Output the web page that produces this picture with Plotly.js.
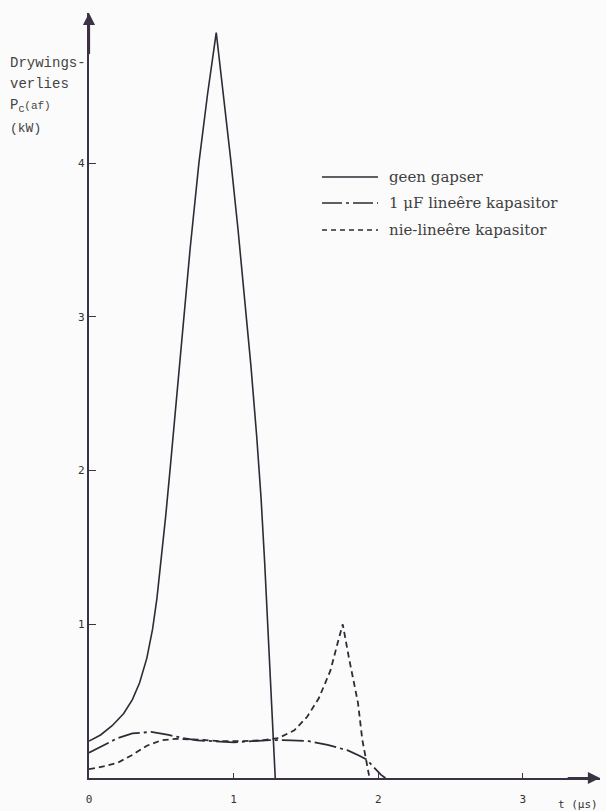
<!DOCTYPE html>
<html>
<head>
<meta charset="utf-8">
<script src="https://cdn.plot.ly/plotly-3.0.1.min.js"></script>
<style>html,body{margin:0;padding:0;background:#fbfbfb;}#chart{width:606px;height:811px;}</style>
</head>
<body>
<div id="chart"></div>
<script>
// Series labels
const legendLabels = ["geen gapser", "1 \u03bcF line\u00eare kapasitor", "nie-line\u00eare kapasitor"];

// t (us) and P_C(af) (kW)
const tSolid = [0, 0.08, 0.16, 0.24, 0.30, 0.35, 0.40, 0.44, 0.47, 0.50, 0.53, 0.56, 0.60, 0.65, 0.70, 0.76, 0.82, 0.88, 0.93, 0.98, 1.03, 1.08, 1.12, 1.16, 1.19, 1.215, 1.235, 1.255, 1.272, 1.288];
const pSolid = [0.24, 0.28, 0.34, 0.42, 0.51, 0.62, 0.78, 0.97, 1.17, 1.42, 1.70, 2.0, 2.42, 2.95, 3.45, 4.0, 4.45, 4.85, 4.45, 4.025, 3.575, 3.10, 2.68, 2.22, 1.82, 1.40, 1.02, 0.62, 0.28, 0.0];

const tLin = [0, 0.1, 0.2, 0.3, 0.43, 0.55, 0.65, 0.75, 0.9, 1.0, 1.1, 1.25, 1.4, 1.52, 1.65, 1.79, 1.87, 1.92, 1.97, 2.02, 2.05];
const pLin = [0.165, 0.21, 0.26, 0.29, 0.30, 0.28, 0.26, 0.245, 0.235, 0.232, 0.238, 0.247, 0.245, 0.24, 0.215, 0.18, 0.145, 0.12, 0.07, 0.02, 0.0];

const tNonlin = [0, 0.1, 0.2, 0.3, 0.4, 0.5, 0.6, 0.75, 0.9, 1.05, 1.2, 1.31, 1.42, 1.51, 1.59, 1.67, 1.72, 1.755, 1.80, 1.86, 1.89, 1.94];
const pNonlin = [0.057, 0.075, 0.10, 0.15, 0.21, 0.245, 0.255, 0.25, 0.24, 0.24, 0.245, 0.26, 0.31, 0.40, 0.52, 0.70, 0.88, 1.0, 0.77, 0.49, 0.25, 0.0];

// Axis ticks
const xTickVals = [0, 1, 2, 3];
const xTickText = ["0", "1", "2", "3"];
const yTickVals = [1, 2, 3, 4];
const yTickText = ["1", "2", "3", "4"];

const ink = "#2f2a35";
const axisInk = "#3b3344";
const dashes = ["solid", "22px,4px,3px,4px", "6px,4px"];

const traces = [
  {x: tSolid, y: pSolid, name: legendLabels[0], mode: "lines", line: {color: ink, width: 1.6, dash: dashes[0]}, cliponaxis: false},
  {x: tLin, y: pLin, name: legendLabels[1], mode: "lines", line: {color: ink, width: 1.8, dash: dashes[1]}, cliponaxis: false},
  {x: tNonlin, y: pNonlin, name: legendLabels[2], mode: "lines", line: {color: ink, width: 1.8, dash: dashes[2]}, cliponaxis: false}
];

// pixel helpers for decorations (plot area: x 89..600, y 13..778)
const W = 606, H = 811, L = 89, R = 6, T = 13, B = 33;
const pw = W - L - R, ph = H - T - B;
const px = v => (v - L) / pw;
const py = v => (H - B - v) / ph;

const legendRows = [177, 203, 230];
const shapes = [];
const annotations = [];
legendRows.forEach((yy, i) => {
  shapes.push({type: "line", xref: "paper", yref: "paper", x0: px(322), x1: px(378), y0: py(yy), y1: py(yy),
    line: {color: ink, width: 1.3, dash: i === 0 ? "solid" : (i === 1 ? "20px,4px,3px,4px" : "5px,4px")}});
  annotations.push({xref: "paper", yref: "paper", x: px(387), y: py(yy), xanchor: "left", yanchor: "middle",
    text: legendLabels[i], showarrow: false, font: {family: "DejaVu Serif", size: 15, color: "#3f3f3f"}});
});

// y-axis title lines
const yTitle = ["Drywings-", "verlies", "P<sub>C</sub><span style='font-size:11px'>(af)</span>", "(kW)"];
const yTitleRows = [63, 84, 106, 128];
yTitle.forEach((s, i) => {
  annotations.push({xref: "paper", yref: "paper", x: px(8), y: py(yTitleRows[i]), xanchor: "left", yanchor: "middle",
    text: s, showarrow: false, font: {family: "Liberation Mono", size: i === 3 ? 13 : 14, color: "#444"}});
});

// x-axis unit
annotations.push({xref: "x", yref: "y", x: 3.38, y: 0, yshift: -26, xanchor: "center", yanchor: "middle",
  text: "t (\u03bcs)", showarrow: false, font: {family: "DejaVu Sans Mono", size: 11, color: "#333"}});

// axis arrowheads
annotations.push({xref: "x", yref: "y", axref: "x", ayref: "y", x: 3.534, y: 0, ax: 3.3, ay: 0, text: "",
  showarrow: true, arrowhead: 2, arrowsize: 1.1, arrowwidth: 2.2, arrowcolor: axisInk, standoff: 0});
annotations.push({xref: "x", yref: "y", axref: "x", ayref: "y", x: 0, y: 4.977, ax: 0, ay: 4.7, text: "",
  showarrow: true, arrowhead: 2, arrowsize: 1.1, arrowwidth: 2.2, arrowcolor: axisInk, standoff: 0});

const layout = {
  width: W, height: H,
  margin: {l: L, r: R, t: T, b: B, pad: 0},
  paper_bgcolor: "#fbfbfb", plot_bgcolor: "#fbfbfb",
  showlegend: false,
  xaxis: {range: [0, 3.534], showgrid: false, zeroline: false, showline: true, linecolor: axisInk, linewidth: 2.2,
    tickmode: "array", tickvals: xTickVals, ticktext: xTickText, ticks: "inside", ticklen: 5, tickwidth: 1.2, tickcolor: axisInk,
    ticklabelstandoff: 10, tickfont: {family: "DejaVu Sans Mono", size: 11, color: "#333"}},
  yaxis: {range: [0, 4.977], showgrid: false, zeroline: false, showline: true, linecolor: axisInk, linewidth: 2.2,
    tickmode: "array", tickvals: yTickVals, ticktext: yTickText, ticks: "inside", ticklen: 7, tickwidth: 1.2, tickcolor: axisInk,
    tickfont: {family: "DejaVu Sans Mono", size: 11, color: "#333"}},
  shapes: shapes,
  annotations: annotations
};

Plotly.newPlot("chart", traces, layout, {staticPlot: true, displayModeBar: false});
</script>
</body>
</html>
